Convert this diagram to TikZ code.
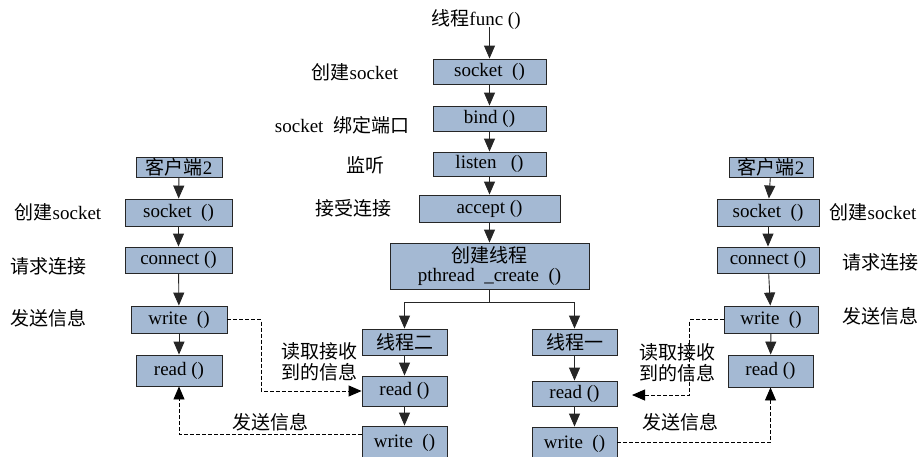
\documentclass[tikz,border=0pt]{standalone}
\usepackage{fontspec}
\setmainfont{Liberation Serif}
\newfontfamily\cjk{Noto Sans CJK SC}
\usetikzlibrary{arrows.meta}
\newcommand{\zh}[1]{{\cjk #1}}
\definecolor{boxblue}{RGB}{164,185,211}
\newcommand{\bx}[6]{\node[box, minimum width={(#4-#2)*1pt}, minimum height={(#5-#3)*1pt}] (#1) at ({(#2+#4)/2},{(#3+#5)/2}) {#6};}
\begin{document}
\begin{tikzpicture}[x=1pt,y=-1pt,
  every node/.style={font=\fontsize{19}{21}\selectfont, inner sep=0pt},
  box/.style={draw=black!85, fill=boxblue, line width=0.9pt},
  arr/.style={-{Triangle[width=11pt,length=13pt]}, line width=0.9pt, draw=black!85},
  darr/.style={-{Triangle[width=11pt,length=13pt]}, line width=0.9pt, dash pattern=on 4pt off 2pt},
  lbl/.style={align=left}]
\useasboundingbox (0,0) rectangle (923,456);
% centre column
\node (func) at (476,20) {\zh{线程}func ()};
\bx{sock}{433}{59}{546}{84}{socket\ \ ()}
\bx{bind}{433}{106}{546}{131}{bind ()}
\bx{listen}{433}{152}{546}{176}{listen\ \ \ ()}
\bx{accept}{419}{195}{560}{222}{accept ()}
\bx{create}{390}{243}{589}{289}{}
\node (cr1) at (489.5,255) {\zh{创建线程}};
\node (cr2) at (489.5,277) {pthread\ \ \_create\ \ ()};
\bx{t2}{362}{329}{447}{355}{\zh{线程二}}
\bx{t1}{532}{329}{617}{355}{\zh{线程一}}
\bx{r2}{362}{376}{447}{406}{read ()}
\bx{w2}{362}{426}{447}{460}{write\ \ ()}
\bx{r1}{532}{381}{617}{406}{read ()}
\bx{w1}{532}{427}{617}{460}{write\ \ ()}
% left client
\bx{cL}{136}{157}{222}{177}{\zh{客户端}2}
\bx{sL}{125}{199}{232}{226}{socket\ \ ()}
\bx{nL}{125}{247}{232}{273}{connect ()}
\bx{wL}{131}{306}{227}{333}{write\ \ ()}
\bx{rL}{136}{355}{222}{386}{read ()}
% right client
\bx{cR}{729}{157}{813}{177}{\zh{客户端}2}
\bx{sR}{717}{199}{819}{226}{socket\ \ ()}
\bx{nR}{717}{247}{819}{273}{connect ()}
\bx{wR}{724}{306}{818}{333}{write\ \ ()}
\bx{rR}{728}{355}{813}{387}{read ()}
% labels
\node (l1) at (355,72) {\zh{创建}socket};
\node (l2) at (342,125) {socket\ \ \zh{绑定端口}};
\node (l3) at (365,165) {\zh{监听}};
\node (l4) at (353,208) {\zh{接受连接}};
\node (l5) at (58,212) {\zh{创建}socket};
\node (l6) at (48,266) {\zh{请求连接}};
\node (l7) at (48,318) {\zh{发送信息}};
\node[lbl] (l8) at (319,362) {\zh{读取接收}\\\zh{到的信息}};
\node (l9) at (270,422) {\zh{发送信息}};
\node (l10) at (873,212) {\zh{创建}socket};
\node (l11) at (880,262) {\zh{请求连接}};
\node (l12) at (880,316) {\zh{发送信息}};
\node[lbl] (l13) at (677,363) {\zh{读取接收}\\\zh{到的信息}};
\node (l14) at (680,422) {\zh{发送信息}};
% centre arrows
\draw[arr] (sock.north |- func.south) ++(0,-3) -- (sock.north);
\draw[arr] (sock) -- (bind);
\draw[arr] (bind) -- (listen);
\draw[arr] (listen) -- (accept);
\draw[arr] (accept) -- (create);
\draw[line width=0.9pt, draw=black!85] (create.south) -- ++(0,13) coordinate (sp);
\draw[arr] (sp) -| (t2.north);
\draw[arr] (sp) -| (t1.north);
\draw[arr] (t2) -- (r2);
\draw[arr] (r2) -- (w2);
\draw[arr] (t1) -- (r1);
\draw[arr] (r1) -- (w1.north);
% client arrows
\draw[arr] (cL) -- (sL);
\draw[arr] (sL) -- (nL);
\draw[arr] (nL) -- (wL);
\draw[arr] (wL) -- (rL);
\draw[arr] (cR) -- (sR);
\draw[arr] (sR) -- (nR);
\draw[arr] (nR) -- (wR);
\draw[arr] (wR) -- (rR);
% dashed message flows
\draw[darr] (wL.east) -- ++(34,0) |- (r2.west);
\draw[darr] ([yshift=9pt]w2.west) -| (rL.south);
\coordinate (rin) at (632,395);
\draw[darr] (wR.west) -- ++(-34,0) |- (rin);
\draw[darr] ([yshift=1pt]w1.east) -| (rR.south);
\end{tikzpicture}
\end{document}
